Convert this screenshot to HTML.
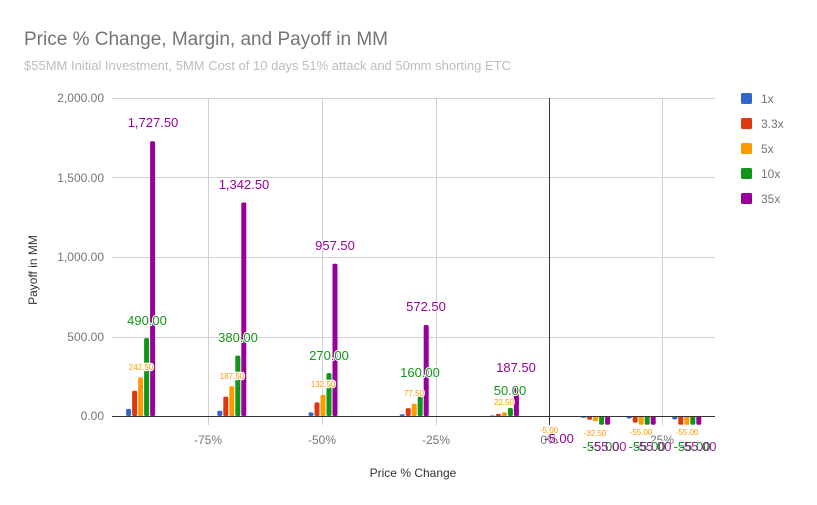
<!DOCTYPE html><html><head><style>body{margin:0;background:#fff}svg{display:block;font-family:"Liberation Sans",sans-serif}</style></head><body>
<svg width="817" height="505" viewBox="0 0 817 505">
<text x="24" y="45" font-size="19" fill="#757575">Price % Change, Margin, and Payoff in MM</text>
<text x="24" y="70" font-size="13" fill="#bdbdbd">$55MM Initial Investment, 5MM Cost of 10 days 51% attack and 50mm shorting ETC</text>
<g stroke="#d0d0d0" stroke-width="1">
<line x1="112" x2="715" y1="98.5" y2="98.5"/><line x1="112" x2="715" y1="177.5" y2="177.5"/><line x1="112" x2="715" y1="257.5" y2="257.5"/><line x1="112" x2="715" y1="337.5" y2="337.5"/>
<line x1="208.5" x2="208.5" y1="98" y2="425"/><line x1="322.5" x2="322.5" y1="98" y2="425"/><line x1="436.5" x2="436.5" y1="98" y2="425"/><line x1="662.5" x2="662.5" y1="98" y2="425"/>
</g>
<line x1="549.5" x2="549.5" y1="98" y2="425" stroke="#333"/>
<g font-size="12" fill="#757575" text-anchor="end">
<text x="104" y="102">2,000.00</text><text x="104" y="182">1,500.00</text><text x="104" y="261">1,000.00</text><text x="104" y="341">500.00</text><text x="104" y="420">0.00</text></g>
<g font-size="12" fill="#757575" text-anchor="middle">
<text x="208" y="444">-75%</text><text x="322" y="444">-50%</text><text x="436" y="444">-25%</text><text x="549" y="444">0%</text><text x="662" y="444">25%</text></g>
<text x="413" y="477" font-size="12" fill="#333" text-anchor="middle">Price % Change</text>
<text transform="translate(37,270) rotate(-90)" font-size="12" fill="#333" text-anchor="middle">Payoff in MM</text>
<g>
<g fill="#3366cc"><rect x="126.1" y="408.9" width="5" height="7.1" rx="1.5"/><rect x="217.3" y="410.7" width="5" height="5.3" rx="1.5"/><rect x="308.5" y="412.4" width="5" height="3.6" rx="1.5"/><rect x="399.7" y="414.2" width="5" height="1.8" rx="1"/><rect x="489.9" y="415.5" width="5" height="0.5"/><rect x="535.5" y="416" width="5" height="1" /><rect x="581.1" y="416" width="5" height="1.7" rx="0.8"/><rect x="626.7" y="416" width="5" height="2.5" rx="1"/><rect x="672.3" y="416" width="5" height="3.4" rx="1.2"/></g>
<g fill="#dc3912"><rect x="132.1" y="390.8" width="5" height="25.2" rx="1.5"/><rect x="223.3" y="396.6" width="5" height="19.4" rx="1.5"/><rect x="314.5" y="402.4" width="5" height="13.6" rx="1.5"/><rect x="405.7" y="408.1" width="5" height="7.9" rx="1.5"/><rect x="495.9" y="413.9" width="5" height="2.1" rx="1"/><rect x="541.5" y="416" width="5" height="1"/><rect x="587.1" y="416" width="5" height="3.7" rx="1.5"/><rect x="632.7" y="416" width="5" height="6.6" rx="1.5"/><rect x="678.3" y="416" width="5" height="8.7" rx="1.5"/></g>
<g fill="#ff9900"><rect x="138.1" y="377.4" width="5" height="38.6" rx="1.5"/><rect x="229.3" y="386.2" width="5" height="29.8" rx="1.5"/><rect x="320.5" y="394.9" width="5" height="21.1" rx="1.5"/><rect x="411.7" y="403.7" width="5" height="12.3" rx="1.5"/><rect x="501.9" y="412.4" width="5" height="3.6" rx="1.5"/><rect x="547.5" y="416" width="5" height="1"/><rect x="593.1" y="416" width="5" height="5.2" rx="1.5"/><rect x="638.7" y="416" width="5" height="8.7" rx="1.5"/><rect x="684.3" y="416" width="5" height="8.7" rx="1.5"/></g>
<g fill="#109618"><rect x="144.1" y="338.1" width="5" height="77.9" rx="1.5"/><rect x="235.3" y="355.6" width="5" height="60.4" rx="1.5"/><rect x="326.5" y="373.1" width="5" height="42.9" rx="1.5"/><rect x="417.7" y="390.6" width="5" height="25.4" rx="1.5"/><rect x="507.9" y="408" width="5" height="8" rx="1.5"/><rect x="553.5" y="416" width="5" height="1"/><rect x="599.1" y="416" width="5" height="8.7" rx="1.5"/><rect x="644.7" y="416" width="5" height="8.7" rx="1.5"/><rect x="690.3" y="416" width="5" height="8.7" rx="1.5"/></g>
<g fill="#990099"><rect x="150.1" y="141.3" width="5" height="274.7" rx="1.5"/><rect x="241.3" y="202.5" width="5" height="213.5" rx="1.5"/><rect x="332.5" y="263.8" width="5" height="152.2" rx="1.5"/><rect x="423.7" y="325" width="5" height="91" rx="1.5"/><rect x="513.9" y="386.2" width="5" height="29.8" rx="1.5"/><rect x="559.5" y="416" width="5" height="1"/><rect x="605.1" y="416" width="5" height="8.7" rx="1.5"/><rect x="650.7" y="416" width="5" height="8.7" rx="1.5"/><rect x="696.3" y="416" width="5" height="8.7" rx="1.5"/></g>
</g>
<line x1="112" x2="715" y1="416.5" y2="416.5" stroke="#333"/>
<g font-size="8" fill="#ff9900" text-anchor="middle" stroke="#fff" stroke-width="2.5" paint-order="stroke">
<text x="141" y="370">242.50</text><text x="232" y="379">187.50</text><text x="323" y="387">132.50</text><text x="414" y="396">77.50</text><text x="504" y="405">22.50</text>
<text x="549" y="433">-5.00</text><text x="595" y="436">-32.50</text><text x="641" y="435">-55.00</text><text x="687" y="435">-55.00</text></g>
<g font-size="13" text-anchor="middle" stroke="#fff" stroke-width="2" paint-order="stroke">
<text x="147" y="325" fill="#109618">490.00</text><text x="238" y="342" fill="#109618">380.00</text><text x="329" y="360" fill="#109618">270.00</text><text x="420" y="377" fill="#109618">160.00</text><text x="510" y="395" fill="#109618">50.00</text>
<text x="153" y="127" fill="#990099">1,727.50</text><text x="244" y="189" fill="#990099">1,342.50</text><text x="335" y="250" fill="#990099">957.50</text><text x="426" y="311" fill="#990099">572.50</text><text x="516" y="372" fill="#990099">187.50</text>
<text x="601" y="451" fill="#109618">-55.00</text><text x="647" y="451" fill="#109618">-55.00</text><text x="692" y="451" fill="#109618">-55.00</text>
<text x="559" y="443" fill="#990099" stroke="none">-5.00</text>
<text x="608" y="451" fill="#990099" stroke="none" opacity="0.9">-55.00</text><text x="653" y="451" fill="#990099" stroke="none" opacity="0.9">-55.00</text><text x="698" y="451" fill="#990099" stroke="none" opacity="0.9">-55.00</text></g>
<g font-size="12" fill="#757575">
<rect x="741" y="93" width="11" height="11" rx="1.5" fill="#3366cc"/><text x="761" y="103">1x</text>
<rect x="741" y="118" width="11" height="11" rx="1.5" fill="#dc3912"/><text x="761" y="128">3.3x</text>
<rect x="741" y="143" width="11" height="11" rx="1.5" fill="#ff9900"/><text x="761" y="153">5x</text>
<rect x="741" y="168" width="11" height="11" rx="1.5" fill="#109618"/><text x="761" y="178">10x</text>
<rect x="741" y="193" width="11" height="11" rx="1.5" fill="#990099"/><text x="761" y="203">35x</text></g>
</svg></body></html>
